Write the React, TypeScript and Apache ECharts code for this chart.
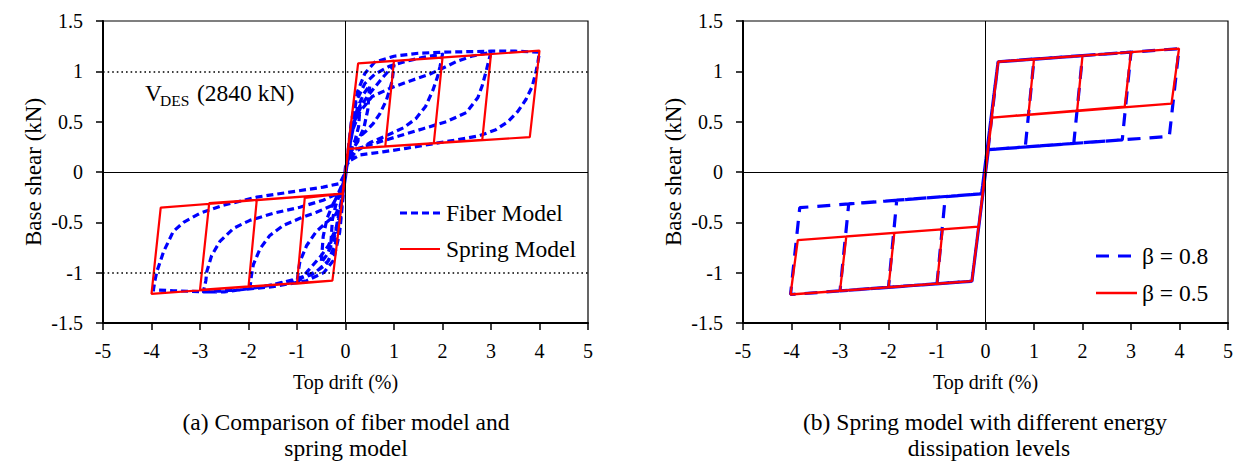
import React, { useEffect, useRef } from 'react';
import * as echarts from 'echarts';

const FONT = '"Liberation Serif", "Times New Roman", Times, serif';

// ---- data ----
const driftRange = [-5, 5];
const shearRange = [-1.5, 1.5];
const designShearLevels = [1, -1];

// (a) fiber model: successive cycles (load +, unload +, load -, unload -)
const fiberModel: [number, number][] = [
  // small cycle
  [0, 0], [0.08, 0.3], [0.17, 0.52], [0.3, 0.66],
  [0.27, 0.45], [0.2, 0.32], [0.1, 0.2], [0, 0.05],
  [-0.08, -0.3], [-0.17, -0.55], [-0.3, -0.7],
  [-0.27, -0.47], [-0.2, -0.33], [-0.1, -0.2], [0, -0.05],
  // 0.5 %
  [0.06, 0.2], [0.13, 0.42], [0.25, 0.64], [0.38, 0.78], [0.5, 0.86],
  [0.46, 0.62], [0.38, 0.44], [0.25, 0.3], [0.1, 0.19], [0, 0.04],
  [-0.06, -0.2], [-0.13, -0.45], [-0.25, -0.68], [-0.38, -0.82], [-0.5, -0.9],
  [-0.46, -0.64], [-0.38, -0.46], [-0.25, -0.31], [-0.1, -0.19], [0, -0.04],
  // 1 %
  [0.06, 0.2], [0.19, 0.51], [0.35, 0.68], [0.5, 0.78], [0.77, 0.94], [0.9, 1.01], [1.0, 1.06],
  [0.96, 0.9], [0.9, 0.8], [0.84, 0.71], [0.71, 0.58], [0.57, 0.48], [0.43, 0.41], [0.29, 0.35], [0.15, 0.25], [0, 0.05],
  [-0.06, -0.22], [-0.19, -0.55], [-0.35, -0.73], [-0.5, -0.83], [-0.77, -0.98], [-0.9, -1.05], [-1.0, -1.1],
  [-0.97, -0.98], [-0.94, -0.89], [-0.8, -0.73], [-0.6, -0.59], [-0.39, -0.5], [-0.2, -0.42], [-0.08, -0.3], [0, -0.05],
  // 2 %
  [0.05, 0.2], [0.12, 0.45], [0.22, 0.7], [0.4, 0.88], [0.6, 0.97], [0.9, 1.05], [1.25, 1.1], [1.6, 1.14], [2.0, 1.17],
  [1.95, 1.05], [1.9, 0.95], [1.8, 0.81], [1.65, 0.65], [1.45, 0.53], [1.2, 0.44], [0.84, 0.36], [0.5, 0.29], [0.2, 0.2], [0, 0.05],
  [-0.05, -0.22], [-0.12, -0.5], [-0.22, -0.75], [-0.4, -0.92], [-0.7, -1.02], [-1.1, -1.08], [-1.5, -1.12], [-1.97, -1.16],
  [-1.94, -1.03], [-1.9, -0.92], [-1.76, -0.76], [-1.56, -0.63], [-1.28, -0.53], [-0.94, -0.46], [-0.6, -0.4], [-0.26, -0.33], [0, -0.05],
  // 3 %
  [0.05, 0.15], [0.15, 0.42], [0.3, 0.6], [0.55, 0.75], [0.91, 0.83], [1.36, 0.91], [1.73, 0.97], [2.0, 1.03], [2.3, 1.1], [2.6, 1.15], [3.0, 1.19],
  [2.95, 1.1], [2.9, 1.0], [2.82, 0.86], [2.73, 0.74], [2.49, 0.59], [2.08, 0.5], [1.6, 0.43], [1.12, 0.36], [0.57, 0.28], [0.16, 0.22], [0, 0.05],
  [-0.05, -0.2], [-0.1, -0.45], [-0.2, -0.7], [-0.35, -0.88], [-0.6, -0.99], [-1.0, -1.06], [-1.5, -1.12], [-2.0, -1.16], [-2.5, -1.19], [-2.93, -1.19],
  [-2.88, -1.08], [-2.86, -0.99], [-2.76, -0.83], [-2.59, -0.69], [-2.31, -0.56], [-1.97, -0.48], [-1.49, -0.41], [-0.94, -0.35], [-0.46, -0.28], [-0.1, -0.2], [0, -0.05],
  // 4 %
  [0.05, 0.2], [0.12, 0.5], [0.25, 0.8], [0.4, 0.98], [0.6, 1.09], [1.0, 1.15], [1.5, 1.18], [2.0, 1.19], [3.0, 1.2], [3.5, 1.2], [4.0, 1.19],
  [3.97, 1.1], [3.93, 1.0], [3.85, 0.85], [3.72, 0.72], [3.55, 0.6], [3.35, 0.5], [3.1, 0.42], [2.76, 0.36], [2.3, 0.32], [1.8, 0.28], [1.25, 0.235], [0.77, 0.2], [0.3, 0.17], [0.05, 0.1], [0, 0],
  [-0.05, -0.25], [-0.12, -0.6], [-0.25, -0.88], [-0.45, -1.0], [-0.8, -1.08], [-1.5, -1.14], [-2.17, -1.17], [-2.86, -1.19], [-3.55, -1.18], [-3.96, -1.17],
  [-3.93, -1.08], [-3.89, -0.99], [-3.75, -0.79], [-3.55, -0.59], [-3.34, -0.5], [-3.0, -0.41], [-2.52, -0.33], [-1.83, -0.25], [-1.15, -0.2], [-0.46, -0.15], [-0.12, -0.115], [0, 0],
];

// (a) spring model
const springModel: [number, number][] = [
  [0, 0], [0.26, 1.08], [1, 1.105], [0.82, 0.255], [0.06, 0.23], [-0.27, -1.08], [-1, -1.11], [-0.84, -0.257], [-0.06, -0.215],
  [0.26, 1.08], [2, 1.135], [1.82, 0.283], [0.06, 0.23], [-0.27, -1.08], [-2, -1.14], [-1.83, -0.28], [-0.06, -0.215],
  [0.26, 1.08], [3, 1.17], [2.82, 0.32], [0.06, 0.23], [-0.27, -1.08], [-3, -1.17], [-2.81, -0.31], [-0.06, -0.215],
  [0.26, 1.08], [4, 1.205], [3.8, 0.347], [0.06, 0.23], [-0.27, -1.08], [-4, -1.21], [-3.81, -0.353], [-0.06, -0.215], [0, 0],
];

// (b) spring model, beta = 0.8
const beta08: [number, number][] = [
  [0, 0], [0.26, 1.095], [1, 1.122], [0.82, 0.247], [0.06, 0.222], [-0.28, -1.085], [-1, -1.11], [-0.83, -0.245], [-0.08, -0.216],
  [0.26, 1.095], [2, 1.156], [1.82, 0.283], [0.06, 0.222], [-0.28, -1.085], [-2, -1.145], [-1.83, -0.28], [-0.08, -0.216],
  [0.26, 1.095], [3, 1.191], [2.82, 0.319], [0.06, 0.222], [-0.28, -1.085], [-3, -1.181], [-2.82, -0.317], [-0.08, -0.216],
  [0.26, 1.095], [3.99, 1.225], [3.79, 0.354], [0.06, 0.222], [-0.28, -1.085], [-4.02, -1.217], [-3.83, -0.354], [-0.08, -0.216], [0, 0],
];

// (b) spring model, beta = 0.5
const beta05: [number, number][] = [
  [0, 0], [0.26, 1.095], [1, 1.122], [0.885, 0.57], [0.135, 0.54], [-0.28, -1.085], [-1, -1.11], [-0.885, -0.57], [-0.14, -0.543],
  [0.26, 1.095], [2, 1.156], [1.89, 0.61], [0.135, 0.54], [-0.28, -1.085], [-2, -1.145], [-1.88, -0.605], [-0.14, -0.543],
  [0.26, 1.095], [3, 1.191], [2.87, 0.65], [0.135, 0.54], [-0.28, -1.085], [-3, -1.181], [-2.87, -0.64], [-0.14, -0.543],
  [0.26, 1.095], [3.99, 1.225], [3.835, 0.68], [0.135, 0.54], [-0.28, -1.085], [-4.02, -1.217], [-3.87, -0.676], [-0.14, -0.543], [0, 0],
];

const seriesNames = ['Fiber Model', 'Spring Model', 'β = 0.8', 'β = 0.5'];
const xAxisTitle = 'Top drift (%)';
const yAxisTitle = 'Base shear (kN)';
const captionA = ['(a) Comparison of fiber model and', 'spring model'];
const captionB = ['(b) Spring model with different energy', 'dissipation levels'];

const BLUE = '#0000ff';
const RED = '#ff0000';
const FIBER_DASH = [7, 4];
const BETA08_DASH = [13, 9];

function xAxis(gridIndex: number) {
  return {
    gridIndex,
    type: 'value',
    min: driftRange[0],
    max: driftRange[1],
    interval: 1,
    axisLine: { show: true, onZero: false, lineStyle: { color: '#000', width: 2 } },
    axisTick: { show: true, inside: false, length: 7, lineStyle: { color: '#000', width: 1.5 } },
    axisLabel: { color: '#000', fontSize: 20, fontFamily: FONT, margin: 18 },
    splitLine: { show: false },
    name: xAxisTitle,
    nameLocation: 'middle',
    nameGap: 49,
    nameTextStyle: { color: '#000', fontSize: 20, fontFamily: FONT },
  };
}

function yAxis(gridIndex: number) {
  return {
    gridIndex,
    type: 'value',
    min: shearRange[0],
    max: shearRange[1],
    interval: 0.5,
    axisLine: { show: true, onZero: false, lineStyle: { color: '#000', width: 2 } },
    axisTick: { show: true, inside: false, length: 7, lineStyle: { color: '#000', width: 1.5 } },
    axisLabel: { color: '#000', fontSize: 20, fontFamily: FONT, margin: 20 },
    splitLine: { show: false },
    name: yAxisTitle,
    nameLocation: 'middle',
    nameRotate: 90,
    nameGap: 58,
    nameTextStyle: { color: '#000', fontSize: 23, fontFamily: FONT },
  };
}

function refLines(idx: number, withDesign: boolean) {
  const data: any[] = [{ xAxis: 0 }, { yAxis: 0 }];
  if (withDesign) {
    designShearLevels.forEach((v) =>
      data.push({ yAxis: v, lineStyle: { color: '#000', width: 1.6, type: [1.6, 3] } })
    );
  }
  return {
    type: 'line',
    xAxisIndex: idx,
    yAxisIndex: idx,
    data: [],
    z: 1,
    silent: true,
    markLine: {
      silent: true,
      symbol: ['none', 'none'],
      label: { show: false },
      lineStyle: { color: '#000', width: 1, type: 'solid' },
      data,
    },
  };
}

function legendItem(x: number, y: number, len: number, name: string, color: string, width: number, dash: number[] | null) {
  return [
    {
      type: 'line',
      shape: { x1: x, y1: y, x2: x + len, y2: y },
      style: { stroke: color, lineWidth: width, lineDash: dash || undefined },
      silent: true,
    },
    {
      type: 'text',
      x: 446 + (x - 400),
      y,
      style: { text: name, fill: '#000', font: `23.5px ${FONT}`, verticalAlign: 'middle', align: 'left' },
      silent: true,
    },
  ];
}

export default function App() {
  const ref = useRef<HTMLDivElement>(null);
  useEffect(() => {
    if (!ref.current) return;
    const chart = echarts.init(ref.current, null, { renderer: 'svg' });
    const option: any = {
      animation: false,
      backgroundColor: '#fff',
      textStyle: { fontFamily: FONT },
      grid: [
        { left: 103, top: 21, width: 485, height: 302, show: true, borderColor: '#000', borderWidth: 1.2 },
        { left: 743, top: 21, width: 485, height: 302, show: true, borderColor: '#000', borderWidth: 1.2 },
      ],
      xAxis: [xAxis(0), xAxis(1)],
      yAxis: [yAxis(0), yAxis(1)],
      series: [
        refLines(0, true),
        refLines(1, false),
        {
          name: seriesNames[0],
          type: 'line',
          xAxisIndex: 0,
          yAxisIndex: 0,
          data: fiberModel,
          showSymbol: false,
          symbol: 'none',
          z: 2,
          lineStyle: { color: BLUE, width: 3.2, type: FIBER_DASH, join: 'round' },
          itemStyle: { color: BLUE },
        },
        {
          name: seriesNames[1],
          type: 'line',
          xAxisIndex: 0,
          yAxisIndex: 0,
          data: springModel,
          showSymbol: false,
          symbol: 'none',
          z: 3,
          lineStyle: { color: RED, width: 2.2 },
          itemStyle: { color: RED },
        },
        {
          name: seriesNames[2],
          type: 'line',
          xAxisIndex: 1,
          yAxisIndex: 1,
          data: beta08,
          showSymbol: false,
          symbol: 'none',
          z: 2,
          lineStyle: { color: BLUE, width: 3.2, type: BETA08_DASH },
          itemStyle: { color: BLUE },
        },
        {
          name: seriesNames[3],
          type: 'line',
          xAxisIndex: 1,
          yAxisIndex: 1,
          data: beta05,
          showSymbol: false,
          symbol: 'none',
          z: 3,
          lineStyle: { color: RED, width: 2.3 },
          itemStyle: { color: RED },
        },
      ],
      graphic: [
        { type: 'text', left: 145, top: 81, style: { text: 'V', fill: '#000', font: `23.5px ${FONT}` } },
        { type: 'text', left: 160, top: 92, style: { text: 'DES', fill: '#000', font: `15.5px ${FONT}` } },
        { type: 'text', left: 197, top: 81, style: { text: '(2840 kN)', fill: '#000', font: `23.5px ${FONT}` } },
        ...legendItem(400, 213, 40, seriesNames[0], BLUE, 3.2, FIBER_DASH),
        ...legendItem(400, 249, 40, seriesNames[1], RED, 2.2, null),
        ...legendItem(1096, 256, 37, seriesNames[2], BLUE, 3.2, BETA08_DASH),
        ...legendItem(1096, 293, 41, seriesNames[3], RED, 2.3, null),
        { type: 'text', x: 346, y: 422, style: { text: captionA[0], fill: '#000', font: `23.5px ${FONT}`, align: 'center', verticalAlign: 'middle' } },
        { type: 'text', x: 346, y: 448, style: { text: captionA[1], fill: '#000', font: `23.5px ${FONT}`, align: 'center', verticalAlign: 'middle' } },
        { type: 'text', x: 985, y: 422, style: { text: captionB[0], fill: '#000', font: `23.5px ${FONT}`, align: 'center', verticalAlign: 'middle' } },
        { type: 'text', x: 989, y: 448, style: { text: captionB[1], fill: '#000', font: `23.5px ${FONT}`, align: 'center', verticalAlign: 'middle' } },
      ],
    };
    chart.setOption(option);
    return () => chart.dispose();
  }, []);
  return (
    <div
      ref={ref}
      style={{ position: 'absolute', left: 0, top: 0, width: 1239, height: 463, background: '#fff' }}
    />
  );
}
